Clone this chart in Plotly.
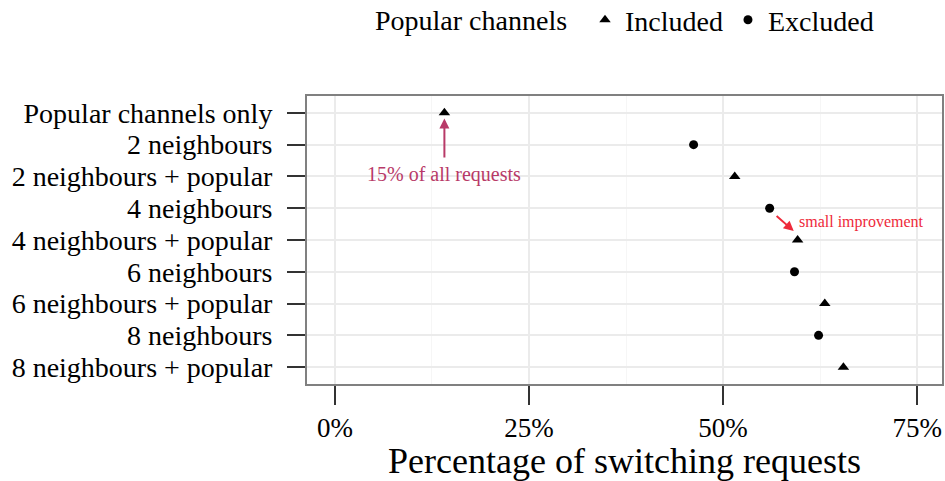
import plotly.graph_objects as go

categories = ["Popular channels only", "2 neighbours", "2 neighbours + popular",
              "4 neighbours", "4 neighbours + popular", "6 neighbours",
              "6 neighbours + popular", "8 neighbours", "8 neighbours + popular"]
values = [14.1, 46.2, 51.5, 56.0, 59.6, 59.2, 63.1, 62.3, 65.5]
popular = ["Included", "Excluded", "Included", "Excluded", "Included",
           "Excluded", "Included", "Excluded", "Included"]
x_ticks = [0, 25, 50, 75]
x_tick_labels = ["0%", "25%", "50%", "75%"]

FONT = "Liberation Serif"
W, H = 945, 481
L, R, T, B = 307, 3, 96, 97
PW, PH = W - L - R, H - T - B

fig = go.Figure()
for group, symbol, size in [("Included", "triangle-up", 10), ("Excluded", "circle", 9)]:
    xs = [v for v, p in zip(values, popular) if p == group]
    ys = [c for c, p in zip(categories, popular) if p == group]
    fig.add_trace(go.Scatter(x=xs, y=ys, mode="markers", name=group,
                             marker=dict(symbol=symbol, size=size, color="black")))

fig.add_annotation(x=values[0], y=0.18, ax=values[0], ay=1.45, xref="x", yref="y",
                   axref="x", ayref="y", showarrow=True, arrowhead=2, arrowsize=1,
                   arrowwidth=2, arrowcolor="#b83a68", text="")
fig.add_annotation(x=values[0], y=1.95, xref="x", yref="y", text="15% of all requests",
                   showarrow=False, font=dict(family=FONT, size=20, color="#b83a68"))
fig.add_annotation(x=59.1, y=3.72, ax=56.7, ay=3.2, xref="x", yref="y",
                   axref="x", ayref="y", showarrow=True, arrowhead=2, arrowsize=1,
                   arrowwidth=2, arrowcolor="#ee2a3a", text="")
fig.add_annotation(x=59.5, y=3.42, xref="x", yref="y", text="small improvement",
                   xanchor="left", showarrow=False,
                   font=dict(family=FONT, size=16, color="#ee2a3a"))
fig.add_annotation(x=(373 - L) / PW, y=(H - B - 21) / PH, xref="paper", yref="paper",
                   text="Popular channels", showarrow=False, xanchor="left",
                   yanchor="middle", font=dict(family=FONT, size=28, color="black"))

fig.update_layout(
    width=W, height=H,
    margin=dict(l=L, r=R, t=T, b=B, autoexpand=False),
    paper_bgcolor="white", plot_bgcolor="white",
    font=dict(family=FONT, size=28, color="black"),
    legend=dict(orientation="h", x=585 / W, xref="container", xanchor="left",
                y=1 - 20 / H, yref="container", yanchor="middle",
                font=dict(size=28), itemwidth=30, bgcolor="rgba(0,0,0,0)"),
    showlegend=True,
)
fig.update_xaxes(range=[-3.6, 78.2], tickvals=x_ticks, ticktext=x_tick_labels,
                 ticks="outside", ticklen=19, tickcolor="#333", tickwidth=1.5,
                 showgrid=True, gridcolor="#ebebeb", gridwidth=1.5,
                 minor=dict(dtick=12.5, tick0=0, showgrid=True, gridcolor="#f6f6f6", gridwidth=1),
                 showline=True, mirror=True, linecolor="#808080", linewidth=2,
                 zeroline=False, automargin=False,
                 title=dict(text="Percentage of switching requests", font=dict(size=36), standoff=2),
                 tickfont=dict(size=27))
fig.update_yaxes(categoryorder="array", categoryarray=categories,
                 tickmode="array", tickvals=categories, ticktext=categories,
                 range=[8.53, -0.53], ticks="outside", ticklen=18, tickcolor="#333",
                 tickwidth=1.5, showgrid=True, gridcolor="#ebebeb", gridwidth=1.5,
                 showline=True, mirror=True, linecolor="#808080", linewidth=2,
                 zeroline=False, automargin=False, ticklabelstandoff=9,
                 tickfont=dict(size=28))

fig.write_html("out.html", config={"displayModeBar": False},
               post_script="document.body.style.margin='0px';")
